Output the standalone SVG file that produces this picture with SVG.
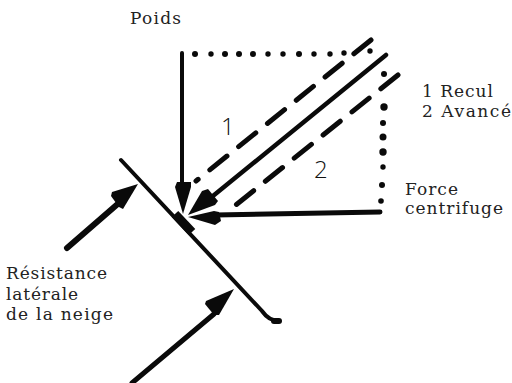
<svg xmlns="http://www.w3.org/2000/svg" width="512" height="383" viewBox="0 0 512 383">
<style>
.t{font-family:"DejaVu Serif","Liberation Serif",serif;font-size:17px;fill:#222}
.n{font-family:"Open Sans","Liberation Sans",sans-serif;font-weight:300;font-size:24px;fill:#111}
.l{fill:none;stroke:#0a0a0a;stroke-linecap:round}
.s{stroke-width:4}
.d{stroke-width:5;stroke-dasharray:22 15}
.h{fill:#0a0a0a}
.dot{fill:#0a0a0a}
</style>
<rect width="512" height="383" fill="#fff"/>
<g id="connectors">
<g class="dot">
<circle cx="195" cy="54" r="3"/><circle cx="211" cy="54" r="2.7"/><circle cx="225" cy="54" r="3"/><circle cx="239" cy="54" r="3"/><circle cx="253" cy="54" r="3"/><circle cx="268" cy="54" r="2.7"/><circle cx="283" cy="54" r="2.7"/><circle cx="299" cy="54" r="3"/><circle cx="314" cy="54" r="2.7"/><circle cx="330" cy="54" r="2.7"/><circle cx="344" cy="53" r="2.7"/><circle cx="370" cy="51" r="2.7"/>
<circle cx="384" cy="74" r="3"/><circle cx="384" cy="107" r="3.7"/><circle cx="383" cy="123" r="3"/><circle cx="383" cy="137" r="3.5"/><circle cx="383" cy="152" r="3.7"/><circle cx="383" cy="167" r="2.7"/><circle cx="382" cy="185" r="3"/><circle cx="381" cy="201" r="2.8"/>
</g>
<path class="l s" d="M182 53V185"/>
<path class="l" style="stroke-width:4.5" d="M386 55L208 200"/>
<path class="l" style="stroke-width:5" d="M380 212L215 215"/>
<path class="l d" d="M371 40L196 181"/>
<path class="l d" d="M398 75L232 208"/>
<path class="l" style="stroke-width:6" d="M67 248L120 202"/>
<path class="l" style="stroke-width:5" d="M132 383L214 314"/>
<path class="h" d="M183 214L175 187 177 182 191 182 191 187Z"/>
<path class="h" d="M188 215L202 191 208 189 218 201 215 205Z"/>
<path class="h" d="M188 217L214 211 219 212 221 221 215 225Z"/>
<path class="h" d="M138 184L123 209 119 207 111 196 112 192Z"/>
<path class="h" d="M234 289L219 315 214 315 205 304 206 301Z"/>
</g>
<g id="ski">
<path class="l" style="stroke-width:4" d="M121 160L262 311Q269 321 279 321"/>
<path class="l" style="stroke-width:9;stroke-linecap:butt" d="M175 214L192 232"/>
<path class="l" style="stroke-width:6" d="M274 321H279"/>
</g>
<g id="poids"><text class="t" x="130" y="24" textLength="51">Poids</text></g>
<g id="legend"><text class="t" x="422" y="97" textLength="71">1 Recul</text><text class="t" x="422" y="117" textLength="89">2 Avancé</text></g>
<g id="force"><text class="t" x="405" y="195" textLength="53">Force</text><text class="t" x="405" y="214" textLength="98">centrifuge</text></g>
<g id="resistance"><text class="t" x="6" y="279" textLength="101">Résistance</text><text class="t" x="6" y="300" textLength="72">latérale</text><text class="t" x="6" y="320" textLength="107">de la neige</text></g>
<g id="n1"><text class="n" x="221" y="135">1</text></g>
<g id="n2"><text class="n" x="314" y="178">2</text></g>
</svg>
